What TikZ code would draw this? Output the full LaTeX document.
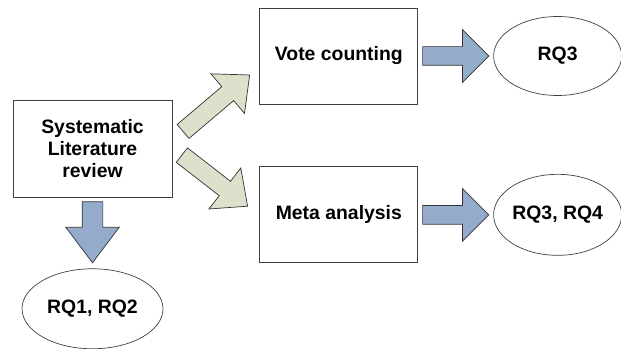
\documentclass[tikz,border=0pt]{standalone}
\usepackage{fontspec}
\setmainfont{Liberation Sans}
\usetikzlibrary{positioning, shapes.geometric, shapes.arrows, calc}

\definecolor{arrowblue}{HTML}{95ABCB}
\definecolor{arrowsage}{HTML}{DDE0CB}

\tikzset{
  stage/.style={draw=black!75, line width=0.6pt, minimum width=3.95cm, minimum height=2.4cm,
                align=center, font=\fontsize{13.8}{15.7}\selectfont\bfseries},
  rq/.style={draw=black!75, line width=0.5pt, ellipse, inner sep=0pt,
             font=\fontsize{13.8}{15.7}\selectfont\bfseries},
  fatarrow/.style={single arrow, draw=black!80, line width=0.5pt, inner xsep=0pt, inner ysep=0.225cm}
}

% block arrow from #2 to #3
\newcommand{\fatlink}[3][]{%
  \path let \p1=(#2), \p2=(#3), \n1={atan2(\y2-\y1,\x2-\x1)}, \n2={veclen(\x2-\x1,\y2-\y1)} in
    node[fatarrow, #1, rotate=\n1, minimum height=\n2, anchor=tail] at (\p1) {};
}

\begin{document}
\begin{tikzpicture}
\useasboundingbox (0,0) rectangle (15.525,8.725);

% Nodes
\node[stage, minimum width=3.975cm, minimum height=2.425cm] (slr) at (2.3125,5.0125) {Systematic\\Literature\\review};
\node[rq, below=1.775cm of slr, minimum width=3.525cm, minimum height=2cm] (rqA) {RQ1, RQ2};

\node[stage, right=2.175cm of slr, yshift=2.3125cm] (vote) {Vote counting};
\node[stage, below=1.55cm of vote] (meta) {Meta analysis};

\node[rq, right=1.875cm of vote, minimum width=3.2cm, minimum height=1.975cm] (rqB) {RQ3};
\node[rq, right=1.875cm of meta, minimum width=3.2cm, minimum height=2.025cm] (rqC) {RQ3, RQ4};

% Connectors
\coordinate (upTail) at ($(slr.east)+(0.26,0.42)$);
\coordinate (upTip) at ($(vote.west)+(-0.25,-0.48)$);
\coordinate (lowTail) at ($(slr.east)+(0.23,-0.16)$);
\coordinate (lowTip) at ($(meta.west)+(-0.3,0.22)$);
\coordinate (downTail) at ($(slr.south)+(0,-0.1)$);
\coordinate (downTip) at ($(rqA.north)+(0,0.15)$);
\coordinate (voteTail) at ($(vote.east)+(0.1,0)$);
\coordinate (voteTip) at ($(rqB.west)+(-0.12,0)$);
\coordinate (metaTail) at ($(meta.east)+(0.1,0)$);
\coordinate (metaTip) at ($(rqC.west)+(-0.12,0)$);

\fatlink[fill=arrowsage, inner ysep=0.22cm, single arrow head extend=0.42cm, single arrow tip angle=84]{upTail}{upTip}
\fatlink[fill=arrowsage, inner ysep=0.22cm, single arrow head extend=0.42cm, single arrow tip angle=84]{lowTail}{lowTip}
\fatlink[fill=arrowblue, inner ysep=0.25cm, single arrow head extend=0.41cm, single arrow tip angle=74]{downTail}{downTip}
\fatlink[fill=arrowblue, single arrow head extend=0.425cm, single arrow tip angle=90]{voteTail}{voteTip}
\fatlink[fill=arrowblue, single arrow head extend=0.425cm, single arrow tip angle=90]{metaTail}{metaTip}

\end{tikzpicture}
\end{document}
